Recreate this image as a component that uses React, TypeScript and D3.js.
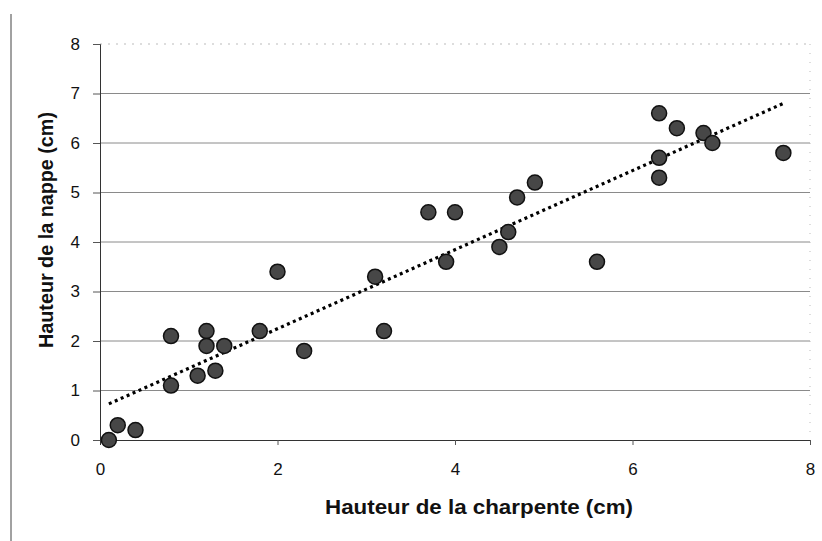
import React, { useEffect, useRef } from 'react';
import * as d3 from 'd3';

// Measured points (charpente cm, nappe cm)
const charpente = [0.1, 0.2, 0.4, 0.8, 0.8, 1.1, 1.2, 1.2, 1.3, 1.4, 1.8, 2.0, 2.3, 3.1, 3.2, 3.7, 3.9, 4.0, 4.5, 4.6, 4.7, 4.9, 5.6, 6.3, 6.3, 6.3, 6.5, 6.8, 6.9, 7.7];
const nappe = [0.0, 0.3, 0.2, 2.1, 1.1, 1.3, 2.2, 1.9, 1.4, 1.9, 2.2, 3.4, 1.8, 3.3, 2.2, 4.6, 3.6, 4.6, 3.9, 4.2, 4.9, 5.2, 3.6, 6.6, 5.7, 5.3, 6.3, 6.2, 6.0, 5.8];

// Trend line end points
const trendX = [0.1, 7.7];
const trendY = [0.73, 6.8];

const xTicks = [0, 2, 4, 6, 8];
const yTicks = [0, 1, 2, 3, 4, 5, 6, 7, 8];

const W = 822;
const H = 541;
const FONT = 'Liberation Sans, Arial, sans-serif';

const App: React.FC = () => {
  const svgRef = useRef<SVGSVGElement>(null);

  useEffect(() => {
    if (!svgRef.current) return;
    const svg = d3.select(svgRef.current);
    svg.selectAll('*').remove();

    const left = 100, right = 810, top = 44, bottom = 440;
    const x = d3.scaleLinear().domain([0, 8]).range([left, right]);
    const y = d3.scaleLinear().domain([0, 8]).range([bottom, top]);

    svg.append('rect').attr('width', W).attr('height', H).attr('fill', '#fff');

    // outer frame line on the left
    svg.append('line')
      .attr('x1', 11).attr('x2', 11).attr('y1', 14).attr('y2', H)
      .attr('stroke', '#444').attr('stroke-width', 1);

    // grid lines
    yTicks.filter((t) => t > 0).forEach((t) => {
      svg.append('line')
        .attr('x1', left).attr('x2', right)
        .attr('y1', y(t)).attr('y2', y(t))
        .attr('stroke', t === 8 ? '#bbb' : '#8a8a8a')
        .attr('stroke-width', 1)
        .attr('stroke-dasharray', t === 8 ? '2 6' : null);
    });

    // right border, faint dotted
    svg.append('line')
      .attr('x1', right).attr('x2', right).attr('y1', top).attr('y2', bottom)
      .attr('stroke', '#bbb').attr('stroke-width', 1).attr('stroke-dasharray', '1 8');

    // axes
    const xAxis = d3.axisBottom(x).tickValues(xTicks).tickSize(5).tickPadding(18).tickFormat(d3.format('d'));
    const yAxis = d3.axisLeft(y).tickValues(yTicks).tickSize(7).tickPadding(13).tickFormat(d3.format('d'));

    const gx = svg.append('g').attr('transform', `translate(0,${bottom})`).call(xAxis);
    const gy = svg.append('g').attr('transform', `translate(${left},0)`).call(yAxis);

    [gx, gy].forEach((g) => {
      g.select('.domain').attr('stroke', '#333');
      g.selectAll('.tick line').attr('stroke', '#555');
      g.selectAll('.tick text')
        .attr('fill', '#111')
        .attr('font-family', FONT)
        .attr('font-size', '17px');
    });
    gx.selectAll('.tick').filter((d) => d === 0).select('line').remove();

    // trend line
    const pts: [number, number][] = trendX.map((v, i) => [v, trendY[i]]);
    svg.append('path')
      .attr('d', d3.line<[number, number]>().x((d) => x(d[0])).y((d) => y(d[1]))(pts))
      .attr('fill', 'none')
      .attr('stroke', '#000')
      .attr('stroke-width', 3.2)
      .attr('stroke-dasharray', '3 3.5');

    // points
    svg.append('g')
      .selectAll('circle')
      .data(charpente.map((v, i) => [v, nappe[i]]))
      .enter()
      .append('circle')
      .attr('cx', (d) => x(d[0]))
      .attr('cy', (d) => y(d[1]))
      .attr('r', 7.5)
      .attr('fill', '#474747')
      .attr('stroke', '#111')
      .attr('stroke-width', 1.5);

    // axis titles
    svg.append('text')
      .attr('x', 479)
      .attr('y', 514)
      .attr('text-anchor', 'middle')
      .attr('font-family', FONT)
      .attr('font-size', '21px')
      .attr('font-weight', 'bold')
      .attr('fill', '#111')
      .attr('textLength', 308)
      .attr('lengthAdjust', 'spacingAndGlyphs')
      .text('Hauteur de la charpente (cm)');

    svg.append('text')
      .attr('transform', `translate(53,230) rotate(-90)`)
      .attr('text-anchor', 'middle')
      .attr('font-family', FONT)
      .attr('font-size', '21px')
      .attr('font-weight', 'bold')
      .attr('fill', '#111')
      .attr('textLength', 236)
      .attr('lengthAdjust', 'spacingAndGlyphs')
      .text('Hauteur de la nappe (cm)');
  }, []);

  return (
    <svg
      ref={svgRef}
      width={W}
      height={H}
      style={{ position: 'absolute', left: 0, top: 0, display: 'block' }}
    />
  );
};

export default App;
